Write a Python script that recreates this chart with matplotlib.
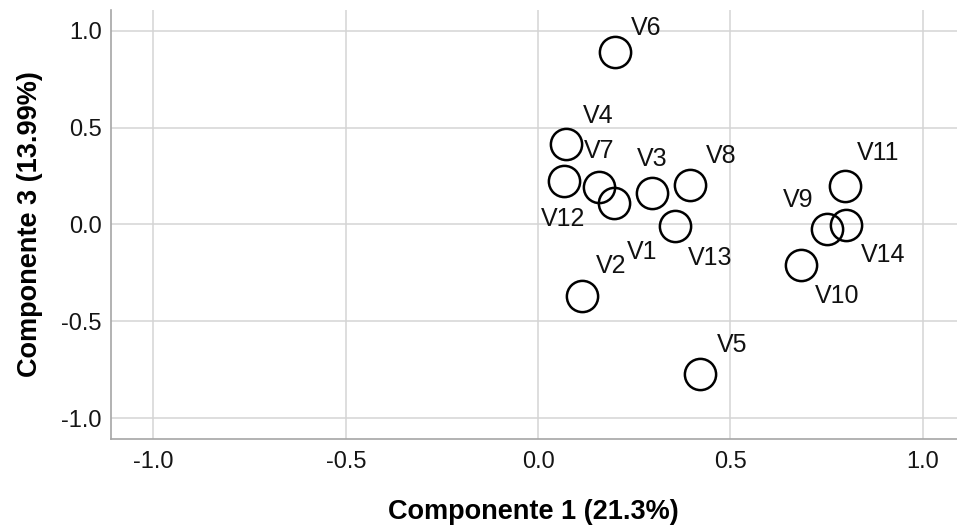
import matplotlib
matplotlib.use("Agg")
import matplotlib.pyplot as plt

plt.rcParams['font.family'] = ['Liberation Sans', 'DejaVu Sans']

names = ['V1', 'V2', 'V3', 'V4', 'V5', 'V6', 'V7',
         'V8', 'V9', 'V10', 'V11', 'V12', 'V13', 'V14']
comp1 = [0.198, 0.114, 0.297, 0.073, 0.421, 0.200, 0.159,
         0.395, 0.750, 0.683, 0.798, 0.068, 0.356, 0.801]
comp3 = [0.112, -0.367, 0.161, 0.415, -0.771, 0.888, 0.195,
         0.204, -0.025, -0.209, 0.198, 0.226, -0.006, -0.003]

# label offsets in pixels (dx, dy), dy upwards
offsets = [(28, -49), (29, 30), (0, 34), (32, 28), (32, 29), (31, 24), (0, 36),
           (31, 29), (-28, 29), (36, -31), (33, 33), (-1, -38), (35, -32), (37, -30)]

ticks = [-1.0, -0.5, 0.0, 0.5, 1.0]
tick_labels = ['-1.0', '-0.5', '0.0', '0.5', '1.0']

fig = plt.figure(figsize=(9.57, 5.31), dpi=100)
ax = fig.add_axes([0.1157, 0.1733, 0.8843, 0.8079])

ax.plot(comp1, comp3, 'o', markersize=22.5, markerfacecolor='none',
        markeredgecolor='black', markeredgewidth=1.8, zorder=3)

for name, x, y, off in zip(names, comp1, comp3, offsets):
    ax.annotate(name, (x, y), xytext=off, textcoords='offset pixels',
                ha='center', va='center', fontsize=18, color='#111111')

ax.set_xlim(-1.111, 1.089)
ax.set_ylim(-1.106, 1.106)
ax.set_xticks(ticks, tick_labels)
ax.set_yticks(ticks, tick_labels)
ax.tick_params(length=0, labelsize=17, colors='#151515')
ax.tick_params(axis='x', pad=9)
ax.tick_params(axis='y', pad=6.5)

ax.grid(True, color='#d4d4d4', linewidth=1.1)
ax.set_axisbelow(True)
for side in ['top', 'right']:
    ax.spines[side].set_visible(False)
for side in ['left', 'bottom']:
    ax.spines[side].set_color('#a6a6a6')
    ax.spines[side].set_linewidth(1.2)

ax.set_xlabel('Componente 1 (21.3%)', fontsize=19.5, fontweight='bold')
ax.set_ylabel('Componente 3 (13.99%)', fontsize=19.5, fontweight='bold')
ax.xaxis.set_label_coords(0.5, -0.171)
ax.xaxis.label.set_va('center')
ax.yaxis.set_label_coords(-0.0954, 0.501)
ax.yaxis.label.set_va('center')

fig.savefig('out.png', dpi=100)
